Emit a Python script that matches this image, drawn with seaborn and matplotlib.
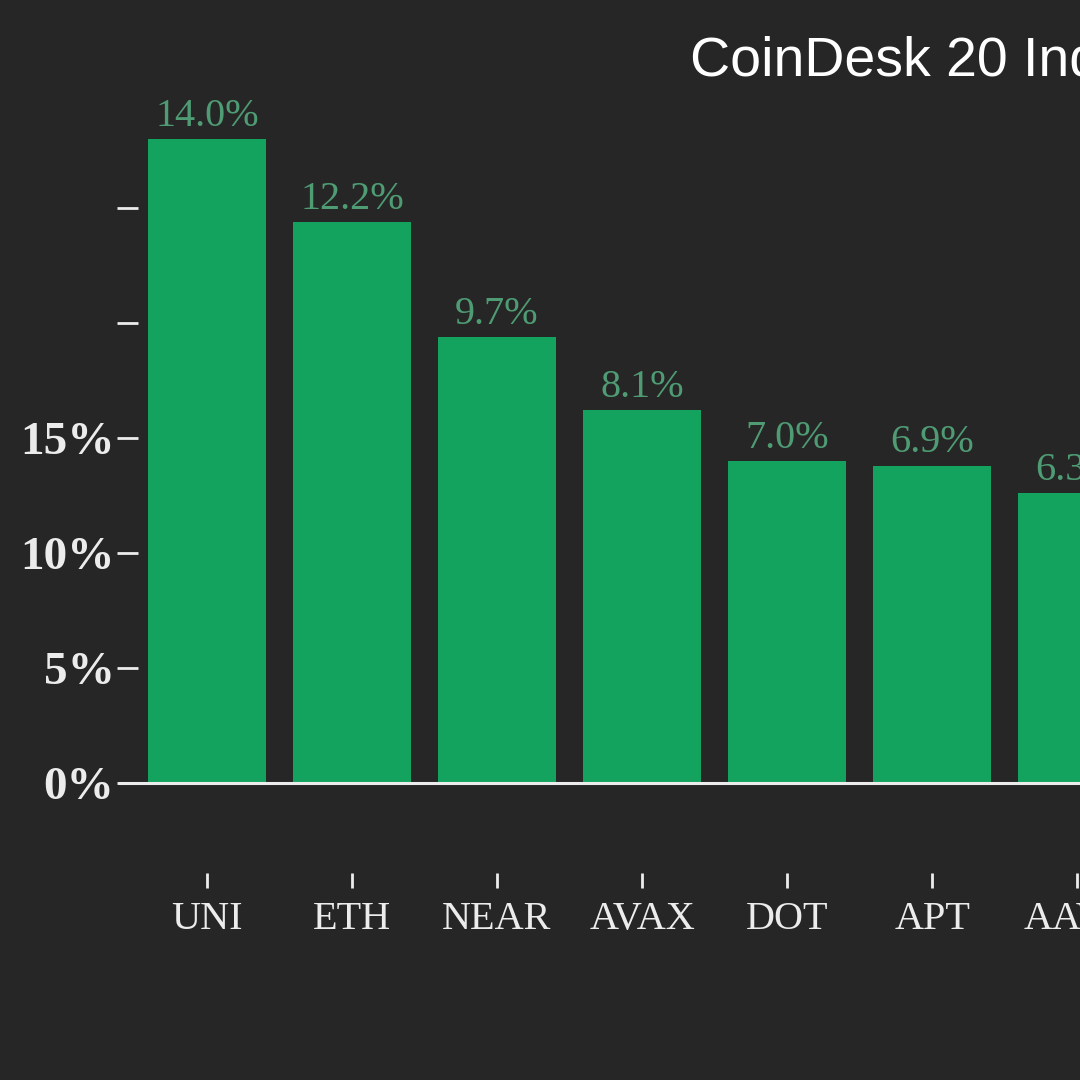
import matplotlib
matplotlib.use("Agg")
import matplotlib.pyplot as plt
import seaborn as sns
import pandas as pd

# Data (right-most bar is cut off by the frame)
coins = ["UNI", "ETH", "NEAR", "AVAX", "DOT", "APT", "AAVE"]
returns = [14.0, 12.2, 9.7, 8.1, 7.0, 6.9, 6.3]
value_labels = ["14.0%", "12.2%", "9.7%", "8.1%", "7.0%", "6.9%", "6.3%"]

# y ticks as drawn in the reference (labels only on the lower four)
ytick_values = [0, 2.5, 5, 7.5, 10, 12.5]
ytick_labels = ["0%", "5%", "10%", "15%", "", ""]

title = "CoinDesk 20 Index"

bg = "#262626"
bar_green = "#14a35f"
label_green = "#4f9c74"
fg = "#ececec"

sns.set_theme(style="dark")
plt.rcParams["font.family"] = ["Liberation Serif", "DejaVu Serif"]

df = pd.DataFrame({"coin": coins, "ret": returns})

fig = plt.figure(figsize=(10.8, 10.8), dpi=100, facecolor=bg)
ax = fig.add_axes([138 / 1080, 1 - 783 / 1080, 1 - 138 / 1080, 683 / 1080])
ax.set_facecolor(bg)

sns.barplot(data=df, x="coin", y="ret", color=bar_green, width=0.81,
            saturation=1, linewidth=0, ax=ax)

for bar, txt in zip(ax.patches, value_labels):
    ax.annotate(txt, (bar.get_x() + bar.get_width() / 2, bar.get_height()),
                xytext=(0, 3), textcoords="offset points",
                ha="center", va="bottom", fontsize=29, color=label_green)

ax.axhline(0, color=fg, lw=2.2, zorder=3, xmin=-0.02, clip_on=False)

ax.set_xlim(-0.476, 6.02)
ax.set_ylim(0, 14.85)
ax.set_yticks(ytick_values)
ax.set_yticklabels(ytick_labels)
ax.set_xlabel("")
ax.set_ylabel("")

for s in ax.spines.values():
    s.set_visible(False)
ax.spines["bottom"].set_position(("outward", 65))

ax.tick_params(axis="y", left=True, length=15, width=2, color=fg,
               pad=2, labelsize=34, labelcolor=fg, direction="out")
ax.tick_params(axis="x", bottom=True, length=11, width=2, color=fg,
               pad=9, labelsize=29, labelcolor=fg, direction="out")
for lbl in ax.get_yticklabels():
    lbl.set_fontweight("bold")
ax.grid(False)

fig.text(690 / 1080, 1 - 62 / 1080, title, color="white", fontsize=40,
         family=["Liberation Sans", "DejaVu Sans"], ha="left", va="center")

fig.savefig("out.png", dpi=100, facecolor=bg)
